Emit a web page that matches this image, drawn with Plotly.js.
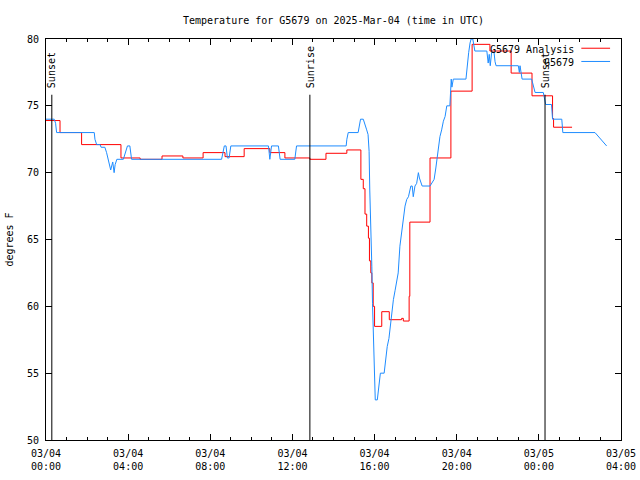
<!DOCTYPE html>
<html>
<head>
<meta charset="utf-8">
<script src="https://cdn.plot.ly/plotly-3.0.1.min.js"></script>
<style>html,body{margin:0;padding:0;background:#fff;}#chart{width:640px;height:480px;}</style>
</head>
<body>
<div id="chart"></div>
<script>
// ---- Data (minutes since 2025-03-04 00:00 UTC) ----
const analysisMinutes = [0, 41, 104, 219, 275, 339, 400, 459, 523, 579, 654, 698, 771, 818, 879,
  920, 927, 932, 937, 942, 945, 949, 952, 956, 960, 981, 1003, 1039, 1044, 1061, 1063,
  1122, 1183, 1245, 1297, 1359, 1420, 1480, 1483, 1537];
const analysisTemps = [73.9, 73.0, 72.1, 71.1, 71.0, 71.25, 71.1, 71.5, 71.2, 71.8, 71.5, 71.1, 71.0, 71.45, 71.7,
  69.5, 68.8, 66.9, 66.0, 65.1, 63.4, 62.5, 61.75, 60.0, 58.5, 59.6, 59.0, 59.1, 58.9, 60.75, 66.3,
  71.1, 76.1, 79.6, 79.1, 77.45, 75.75, 74.05, 73.4, 73.4];

const obsMinutes = [0, 24, 28, 31, 141, 143, 148, 158, 161, 172, 177, 184, 189, 195, 199, 202, 207, 226,
  234, 238, 245, 250, 513, 518, 521, 526, 530, 535, 540, 650, 654, 659, 679, 684, 727, 732,
  877, 879, 883, 912, 915, 919, 927, 932, 937, 941, 944, 946, 950, 952, 954, 958, 962, 968,
  971, 974, 977, 988, 991, 993, 997, 1002, 1005, 1010, 1015, 1020, 1025, 1029, 1034, 1039,
  1044, 1049, 1054, 1059, 1066, 1070, 1073, 1078, 1083, 1088, 1091, 1099, 1122, 1134, 1139,
  1143, 1147, 1151, 1156, 1161, 1166, 1171, 1180, 1182, 1184, 1186, 1190, 1227, 1231, 1235,
  1239, 1242, 1247, 1250, 1253, 1288, 1292, 1295, 1298, 1302, 1309, 1312, 1315, 1380, 1383,
  1385, 1388, 1391, 1419, 1424, 1429, 1453, 1456, 1460, 1477, 1480, 1507, 1510, 1604, 1638];
const obsTemps = [74.0, 74.0, 73.7, 73.0, 73.0, 72.5, 72.1, 72.1, 71.9, 71.9, 71.5, 70.85, 70.2, 70.8, 70.0, 70.6, 71.0, 71.0,
  71.6, 72.0, 72.0, 71.0, 71.0, 71.6, 72.0, 72.0, 71.1, 71.1, 72.0, 72.0, 71.0, 72.0, 72.0, 71.0, 71.0, 72.0,
  72.0, 72.5, 73.0, 73.0, 73.6, 74.0, 74.0, 73.5, 73.2, 72.85, 71.6, 68.7, 65.7, 63.0, 60.2, 57.2, 53.0, 53.0,
  53.7, 54.4, 55.0, 55.0, 55.7, 56.5, 57.0, 57.6, 58.4, 59.5, 60.5, 61.2, 61.9, 62.5, 64.5, 65.5,
  66.7, 67.5, 68.0, 68.2, 69.0, 69.0, 68.2, 69.0, 69.2, 70.0, 69.6, 69.0, 69.0, 69.5, 70.35,
  71.2, 72.0, 72.7, 73.2, 73.85, 74.2, 75.0, 75.0, 76.7, 77.0, 76.4, 77.0, 77.0, 78.2, 79.0,
  79.7, 80.0, 80.0, 79.6, 79.1, 79.1, 78.2, 78.85, 78.0, 79.0, 79.0, 78.3, 78.0, 78.0, 77.5,
  78.0, 77.35, 77.0, 77.0, 76.5, 76.0, 76.0, 75.5, 75.1, 75.1, 74.0, 74.0, 73.0, 73.0, 72.0];

const sunTimes = ['2025-03-04 00:17', '2025-03-04 12:51', '2025-03-05 00:18'];
const sunLabels = ['Sunset', 'Sunrise', 'Sunset'];

const tickHours = [0, 4, 8, 12, 16, 20, 24, 28];
const tickLabels = ['03/04<br>00:00', '03/04<br>04:00', '03/04<br>08:00', '03/04<br>12:00',
  '03/04<br>16:00', '03/04<br>20:00', '03/05<br>00:00', '03/05<br>04:00'];

const seriesNames = ['G5679 Analysis', 'G5679'];
const seriesColors = ['#ff0000', '#1e8cff'];

// ---- helpers ----
function pad(n) { return (n < 10 ? '0' : '') + n; }
function minToDate(mins) {
  const h = Math.floor(mins / 60), m = Math.round(mins - h * 60);
  const day = 4 + Math.floor(h / 24);
  return '2025-03-' + pad(day) + ' ' + pad(h % 24) + ':' + pad(m);
}

const FONT = {family: 'DejaVu Sans Mono, monospace', size: 10, color: '#000'};

const traces = [
  {x: analysisMinutes.map(minToDate), y: analysisTemps, type: 'scatter', mode: 'lines',
   name: seriesNames[0], line: {color: seriesColors[0], width: 1, shape: 'hv'}},
  {x: obsMinutes.map(minToDate), y: obsTemps, type: 'scatter', mode: 'lines',
   name: seriesNames[1], line: {color: seriesColors[1], width: 1}}
];

const shapes = [];
const annotations = [];
sunTimes.forEach((t, i) => {
  shapes.push({type: 'line', xref: 'x', yref: 'paper', x0: t, x1: t, y0: 0, y1: 0.861,
    line: {color: '#000', width: 1}});
  annotations.push({xref: 'x', yref: 'paper', x: t, y: 0.872, text: sunLabels[i], textangle: -90,
    showarrow: false, xanchor: 'center', yanchor: 'bottom', font: FONT});
});
// legend (gnuplot style: text left of sample line)
const legY = [0.975, 0.942];
seriesNames.forEach((n, i) => {
  annotations.push({xref: 'paper', yref: 'paper', x: 0.922, y: legY[i], text: n, showarrow: false,
    xanchor: 'right', yanchor: 'middle', font: FONT});
  shapes.push({type: 'line', xref: 'paper', yref: 'paper', x0: 0.931, x1: 0.981, y0: legY[i] + 0.002, y1: legY[i] + 0.002,
    line: {color: seriesColors[i], width: 1}});
});

const layout = {
  width: 640, height: 480,
  margin: {l: 46, r: 19, t: 39, b: 40, pad: 0},
  paper_bgcolor: '#fff', plot_bgcolor: '#fff',
  font: FONT,
  showlegend: false,
  title: {text: 'Temperature for G5679 on 2025-Mar-04 (time in UTC)', font: FONT,
    x: 0.5, xref: 'paper', xanchor: 'center', y: 0.958, yref: 'container', yanchor: 'middle'},
  xaxis: {
    type: 'date', range: [minToDate(0), minToDate(28 * 60)],
    tickmode: 'array', tickvals: tickHours.map(h => minToDate(h * 60)), ticktext: tickLabels,
    ticks: 'inside', ticklen: 6, tickwidth: 1, tickcolor: '#000',
    minor: {tickmode: 'linear', tick0: minToDate(0), dtick: 3600000, ticks: 'inside', ticklen: 3, tickcolor: '#000', showgrid: false},
    showline: true, linecolor: '#000', linewidth: 1, mirror: 'ticks',
    showgrid: false, zeroline: false, tickfont: FONT, ticklabelstandoff: 4
  },
  yaxis: {
    range: [50, 80], tickmode: 'linear', tick0: 50, dtick: 5,
    ticks: 'inside', ticklen: 6, tickwidth: 1, tickcolor: '#000',
    showline: true, linecolor: '#000', linewidth: 1, mirror: 'ticks',
    showgrid: false, zeroline: false, tickfont: FONT, ticklabelstandoff: 4,
    title: {text: 'degrees F', font: FONT, standoff: 11}
  },
  shapes: shapes,
  annotations: annotations
};

Plotly.newPlot('chart', traces, layout, {staticPlot: true, displayModeBar: false});
</script>
</body>
</html>
